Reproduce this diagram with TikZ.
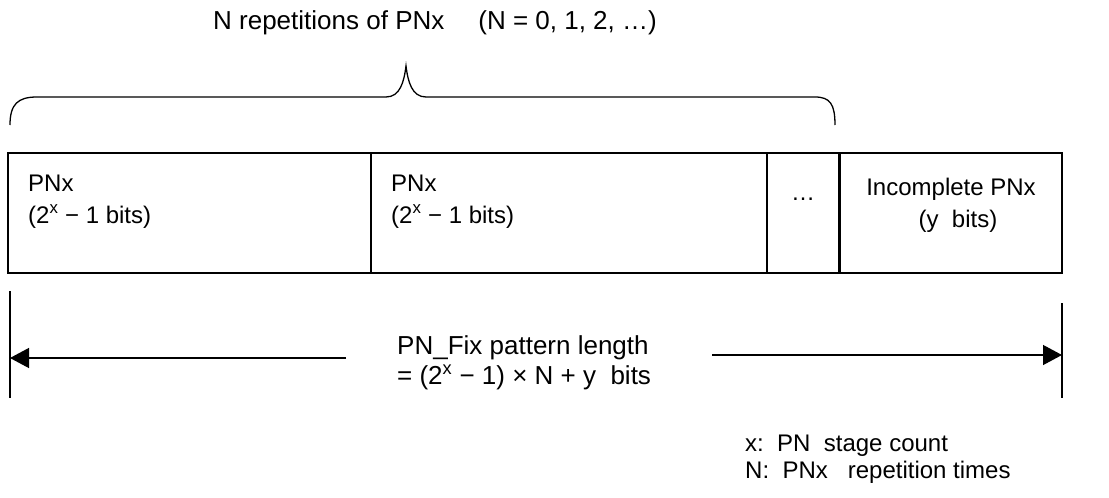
\documentclass[tikz,border=0pt]{standalone}
\usepackage{fontspec}
\setmainfont{Liberation Sans}
\usetikzlibrary{arrows.meta}
\begin{document}
\begin{tikzpicture}[x=1pt,y=-1pt,
  txt/.style={inner sep=0pt,font=\fontsize{24}{30}\selectfont,anchor=base west},
  bigtxt/.style={inner sep=0pt,font=\fontsize{26}{30}\selectfont,anchor=base west},
  ctxt/.style={inner sep=0pt,font=\fontsize{24}{30}\selectfont,anchor=base},
  ln/.style={line width=1.3pt,black},
  arr/.style={ln,-{Triangle[length=19pt,width=20pt]}}]
\useasboundingbox (0,0) rectangle (1109,498);
% title
\node[bigtxt] (title) at (213,29) {N repetitions of PNx\hspace{34pt}(N = 0, 1, 2, …)};
% brace
\coordinate (bl) at (10,125);
\coordinate (br) at (835,125);
\coordinate (bt) at (406,66);
\draw[ln] (bl) .. controls (10,104) and (18,97) .. (37,97) -- (386,97)
  .. controls (400,97) and (404,82) .. (bt)
  .. controls (408,82) and (412,97) .. (426,97) -- (815,97)
  .. controls (830,97) and (835,104) .. (br);
% boxes
\draw[ln] (8,153) rectangle (1062,273);
\draw[ln] (371,153) -- (371,273);
\draw[ln] (767,153) -- (767,273);
\draw[line width=2.2pt] (839.5,153) -- (839.5,273);
\node[txt] (p1a) at (28,191) {PNx};
\node[txt] (p1b) at (28,223) {(2\textsuperscript{x} − 1 bits)};
\node[txt] (p2a) at (391,191) {PNx};
\node[txt] (p2b) at (391,223) {(2\textsuperscript{x} − 1 bits)};
\node[ctxt] (dots) at (803,200) {…};
\node[ctxt] (inc1) at (951,195) {Incomplete PNx};
\node[ctxt] (inc2) at (958,227) {(y\ \ bits)};
% length
\coordinate (lt) at (10,291);
\coordinate (lb) at (10,398);
\coordinate (rt) at (1062,303);
\coordinate (rb) at (1062,398);
\draw[ln] (lt) -- (lb);
\draw[ln] (rt) -- (rb);
\coordinate (las) at (346,358);
\coordinate (lae) at (10,358);
\coordinate (ras) at (712,355);
\coordinate (rae) at (1062,355);
\draw[arr] (las) -- (lae);
\draw[arr] (ras) -- (rae);
\node[bigtxt] (len1) at (397,354) {PN\_Fix pattern length};
\node[bigtxt] (len2) at (397,384) {= (2\textsuperscript{x} − 1) × N + y\ \ bits};
% legend
\node[txt] (leg1) at (745,451) {x:\ \ PN\ \ stage count};
\node[txt] (leg2) at (745,478) {N:\ \ PNx\ \ \ repetition times};
\end{tikzpicture}
\end{document}
